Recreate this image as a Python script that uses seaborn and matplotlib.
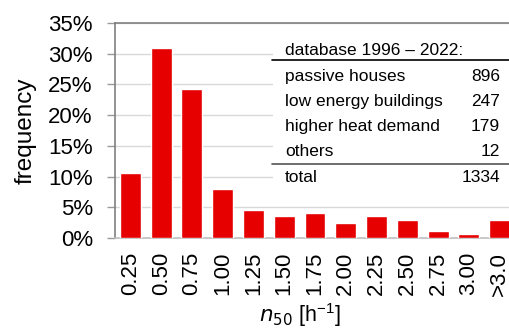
import numpy as np
import pandas as pd
import matplotlib
matplotlib.use('Agg')
import matplotlib.pyplot as plt
from matplotlib.lines import Line2D
from matplotlib.patches import Rectangle
import seaborn as sns

# Data
categories = ['0.25', '0.50', '0.75', '1.00', '1.25', '1.50', '1.75',
              '2.00', '2.25', '2.50', '2.75', '3.00', '>3.0']
frequency = [10.6, 30.9, 24.3, 8.0, 4.6, 3.6, 4.0, 2.5, 3.6, 3.0, 1.1, 0.6, 2.9]

table_labels = ['passive houses', 'low energy buildings', 'higher heat demand', 'others']
table_counts = [896, 247, 179, 12]
total_count = 1334

sns.set_style('white')
plt.rcParams['font.family'] = ['Liberation Sans', 'DejaVu Sans']
plt.rcParams['text.color'] = 'black'
plt.rcParams['axes.labelcolor'] = 'black'

W, H = 509, 332
fig = plt.figure(figsize=(W / 100, H / 100), dpi=100)
ax = fig.add_axes([115 / W, (H - 238) / H, 400 / W, 215 / H])

df = pd.DataFrame({'n50': categories, 'freq': frequency})
sns.barplot(data=df, x='n50', y='freq', color='#e60000', width=0.68,
            saturation=1, ax=ax, zorder=3)

ax.set_ylim(0, 35)
ax.set_xlim(-0.5, len(categories) - 0.5)
ax.set_yticks(np.arange(0, 36, 5))
ax.set_yticklabels([f'{v}%' for v in range(0, 36, 5)], fontsize=16)
ax.yaxis.grid(True, color='#d9d9d9', linewidth=1, zorder=0)
ax.set_axisbelow(True)

ax.set_xticks(range(len(categories)))
ax.set_xticklabels(categories, rotation=90, fontsize=16)
ax.set_xticks(np.arange(-0.5, len(categories), 1), minor=True)
ax.tick_params(axis='x', which='major', length=0, pad=10, labelcolor='black')
ax.tick_params(axis='x', which='minor', length=5, color='#999999', width=1)
ax.tick_params(axis='y', length=6, color='#999999', width=1, pad=10,
               left=True, labelcolor='black')

for s in ['left', 'top', 'bottom']:
    ax.spines[s].set_color('#808080')
    ax.spines[s].set_linewidth(1.2)
ax.spines['bottom'].set_color('#bfbfbf')
ax.spines['right'].set_visible(False)

ax.set_ylabel('frequency', fontsize=17.5, labelpad=8)
ax.set_xlabel(r'$n_{50}$ [h$^{\mathregular{-1}}$]', fontsize=15.5, labelpad=4)
ax.xaxis.set_label_coords((300 - 115) / 400, -0.0, transform=ax.transAxes)
ax.xaxis.label.set_va('baseline')
ax.xaxis.set_label_coords((300 - 115) / 400, -(322 - 238) / 215)

# white box for the database table
ax.add_patch(Rectangle((273 / W, (H - 192) / H), 240 / W, 160 / H,
                       transform=fig.transFigure, facecolor='white',
                       edgecolor='none', zorder=2))

fs = 12.5
def fy(y):
    return (H - y) / H

fig.text(285 / W, fy(55), 'database 1996 \u2013 2022:', fontsize=fs, va='baseline')
fig.add_artist(Line2D([272 / W, 1], [fy(59.5), fy(59.5)], color='black', linewidth=1.2))
baselines = [81, 106, 131, 156.5]
for lab, cnt, yb in zip(table_labels, table_counts, baselines):
    fig.text(285 / W, fy(yb), lab, fontsize=fs, va='baseline')
    fig.text(500 / W, fy(yb), str(cnt), fontsize=fs, va='baseline', ha='right')
fig.add_artist(Line2D([272 / W, 1], [fy(163.5), fy(163.5)], color='#555555', linewidth=1.2))
fig.text(285 / W, fy(181.5), 'total', fontsize=fs, va='baseline')
fig.text(500 / W, fy(181.5), str(total_count), fontsize=fs, va='baseline', ha='right')

fig.savefig('out.png', dpi=100)
